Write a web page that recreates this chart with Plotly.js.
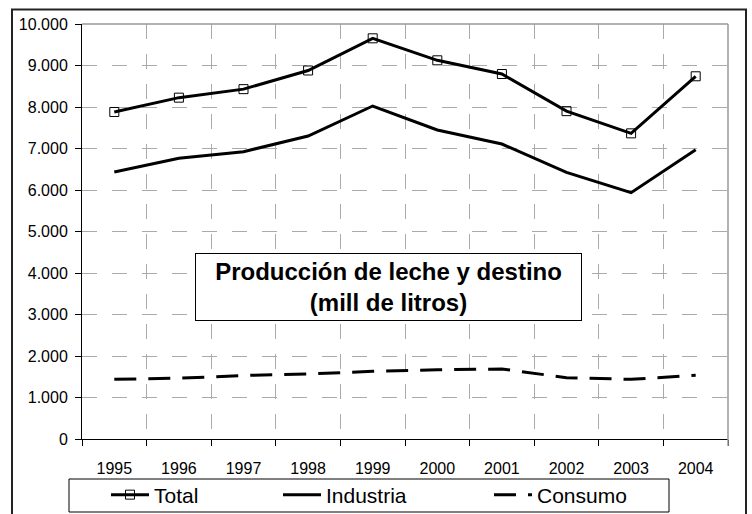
<!DOCTYPE html>
<html>
<head>
<meta charset="utf-8">
<script src="https://cdn.plot.ly/plotly-3.0.1.min.js"></script>
<style>html,body{margin:0;padding:0;background:#fff;}#chart{width:752px;height:514px;}</style>
</head>
<body>
<div id="chart"></div>
<script>
const years = ['1995','1996','1997','1998','1999','2000','2001','2002','2003','2004'];
const total = [7880, 8225, 8430, 8880, 9655, 9125, 8795, 7900, 7365, 8740];
const industria = [6434, 6764, 6923, 7301, 8024, 7446, 7108, 6426, 5935, 6970];
const consumo = [1440, 1465, 1530, 1566, 1631, 1670, 1687, 1477, 1438, 1535];
const seriesNames = ['Total', 'Industria', 'Consumo'];
const chartTitle = '<b>Producción de leche y destino<br>(mill de litros)</b>';

const FONT = 'Liberation Sans, Arial, sans-serif';
const L = 82, R = 24, T = 24, B = 75, W = 752, H = 514;
const pw = W - L - R, ph = H - T - B;
const px = v => (v - L) / pw;
const py = v => (H - B - v) / ph;

const traces = [
  {x: years, y: total, name: seriesNames[0], mode: 'lines+markers', legend: 'legend',
   line: {color: '#000', width: 3},
   marker: {symbol: 'square-open', size: 9, color: '#000', line: {width: 1, color: '#000'}}},
  {x: years, y: industria, name: seriesNames[1], mode: 'lines', legend: 'legend2',
   line: {color: '#000', width: 3}},
  {x: years, y: consumo, name: seriesNames[2], mode: 'lines', legend: 'legend3',
   line: {color: '#000', width: 3, dash: '22px,12px'}}
];

const legBase = {orientation: 'h', yanchor: 'middle', xanchor: 'left', y: py(495),
  bgcolor: 'rgba(0,0,0,0)', borderwidth: 0, itemwidth: 38,
  font: {family: FONT, size: 21, color: '#000'}};

const layout = {
  width: W, height: H,
  margin: {l: L, r: R, t: T, b: B, pad: 0, autoexpand: false},
  paper_bgcolor: '#fff', plot_bgcolor: '#fff',
  separators: ',.',
  font: {family: FONT, color: '#000'},
  showlegend: true,
  legend: Object.assign({}, legBase, {x: px(106)}),
  legend2: Object.assign({}, legBase, {x: px(278)}),
  legend3: Object.assign({}, legBase, {x: px(489)}),
  xaxis: {type: 'category', range: [-0.5, 9.5], tickson: 'boundaries',
    ticks: 'outside', ticklen: 6, tickcolor: '#000', tickwidth: 1,
    showgrid: true, gridcolor: '#aaaaaa', griddash: '15px,15px', gridwidth: 1,
    showline: true, linecolor: '#000', linewidth: 1,
    ticklabelstandoff: 15,
    tickfont: {family: FONT, size: 16, color: '#000'}, fixedrange: true},
  yaxis: {range: [0, 10000], dtick: 1000, tick0: 0, tickformat: ',',
    ticks: 'outside', ticklen: 6, tickcolor: '#000', tickwidth: 1,
    showgrid: true, gridcolor: '#aaaaaa', griddash: '15px,15px', gridwidth: 1,
    zeroline: false, showline: true, linecolor: '#000', linewidth: 1,
    ticklabelstandoff: 4,
    tickfont: {family: FONT, size: 16, color: '#000'}, fixedrange: true},
  shapes: [
    {type: 'rect', xref: 'paper', yref: 'paper', x0: px(12), x1: px(746), y0: py(530), y1: py(9.5),
     line: {color: '#222', width: 2}, fillcolor: 'rgba(0,0,0,0)', layer: 'below'},
    {type: 'line', xref: 'paper', yref: 'paper', x0: 0, x1: 1, y0: 1, y1: 1,
     line: {color: '#999', width: 1.5}},
    {type: 'line', xref: 'paper', yref: 'paper', x0: 1, x1: 1, y0: py(446), y1: 1,
     line: {color: '#999', width: 1.5}},
    {type: 'rect', xref: 'paper', yref: 'paper', x0: px(69), x1: px(669), y0: py(512), y1: py(479),
     line: {color: '#000', width: 1}, fillcolor: 'rgba(0,0,0,0)'}
  ],
  annotations: [
    {text: chartTitle, xref: 'paper', yref: 'paper', x: px(388.5), y: py(287),
     xanchor: 'center', yanchor: 'middle', showarrow: false,
     width: 385, height: 66, bgcolor: '#fff', bordercolor: '#000', borderwidth: 1, borderpad: 0,
     font: {family: FONT, size: 24, color: '#000'}}
  ]
};

Plotly.newPlot('chart', traces, layout, {staticPlot: true, displayModeBar: false});
</script>
</body>
</html>
